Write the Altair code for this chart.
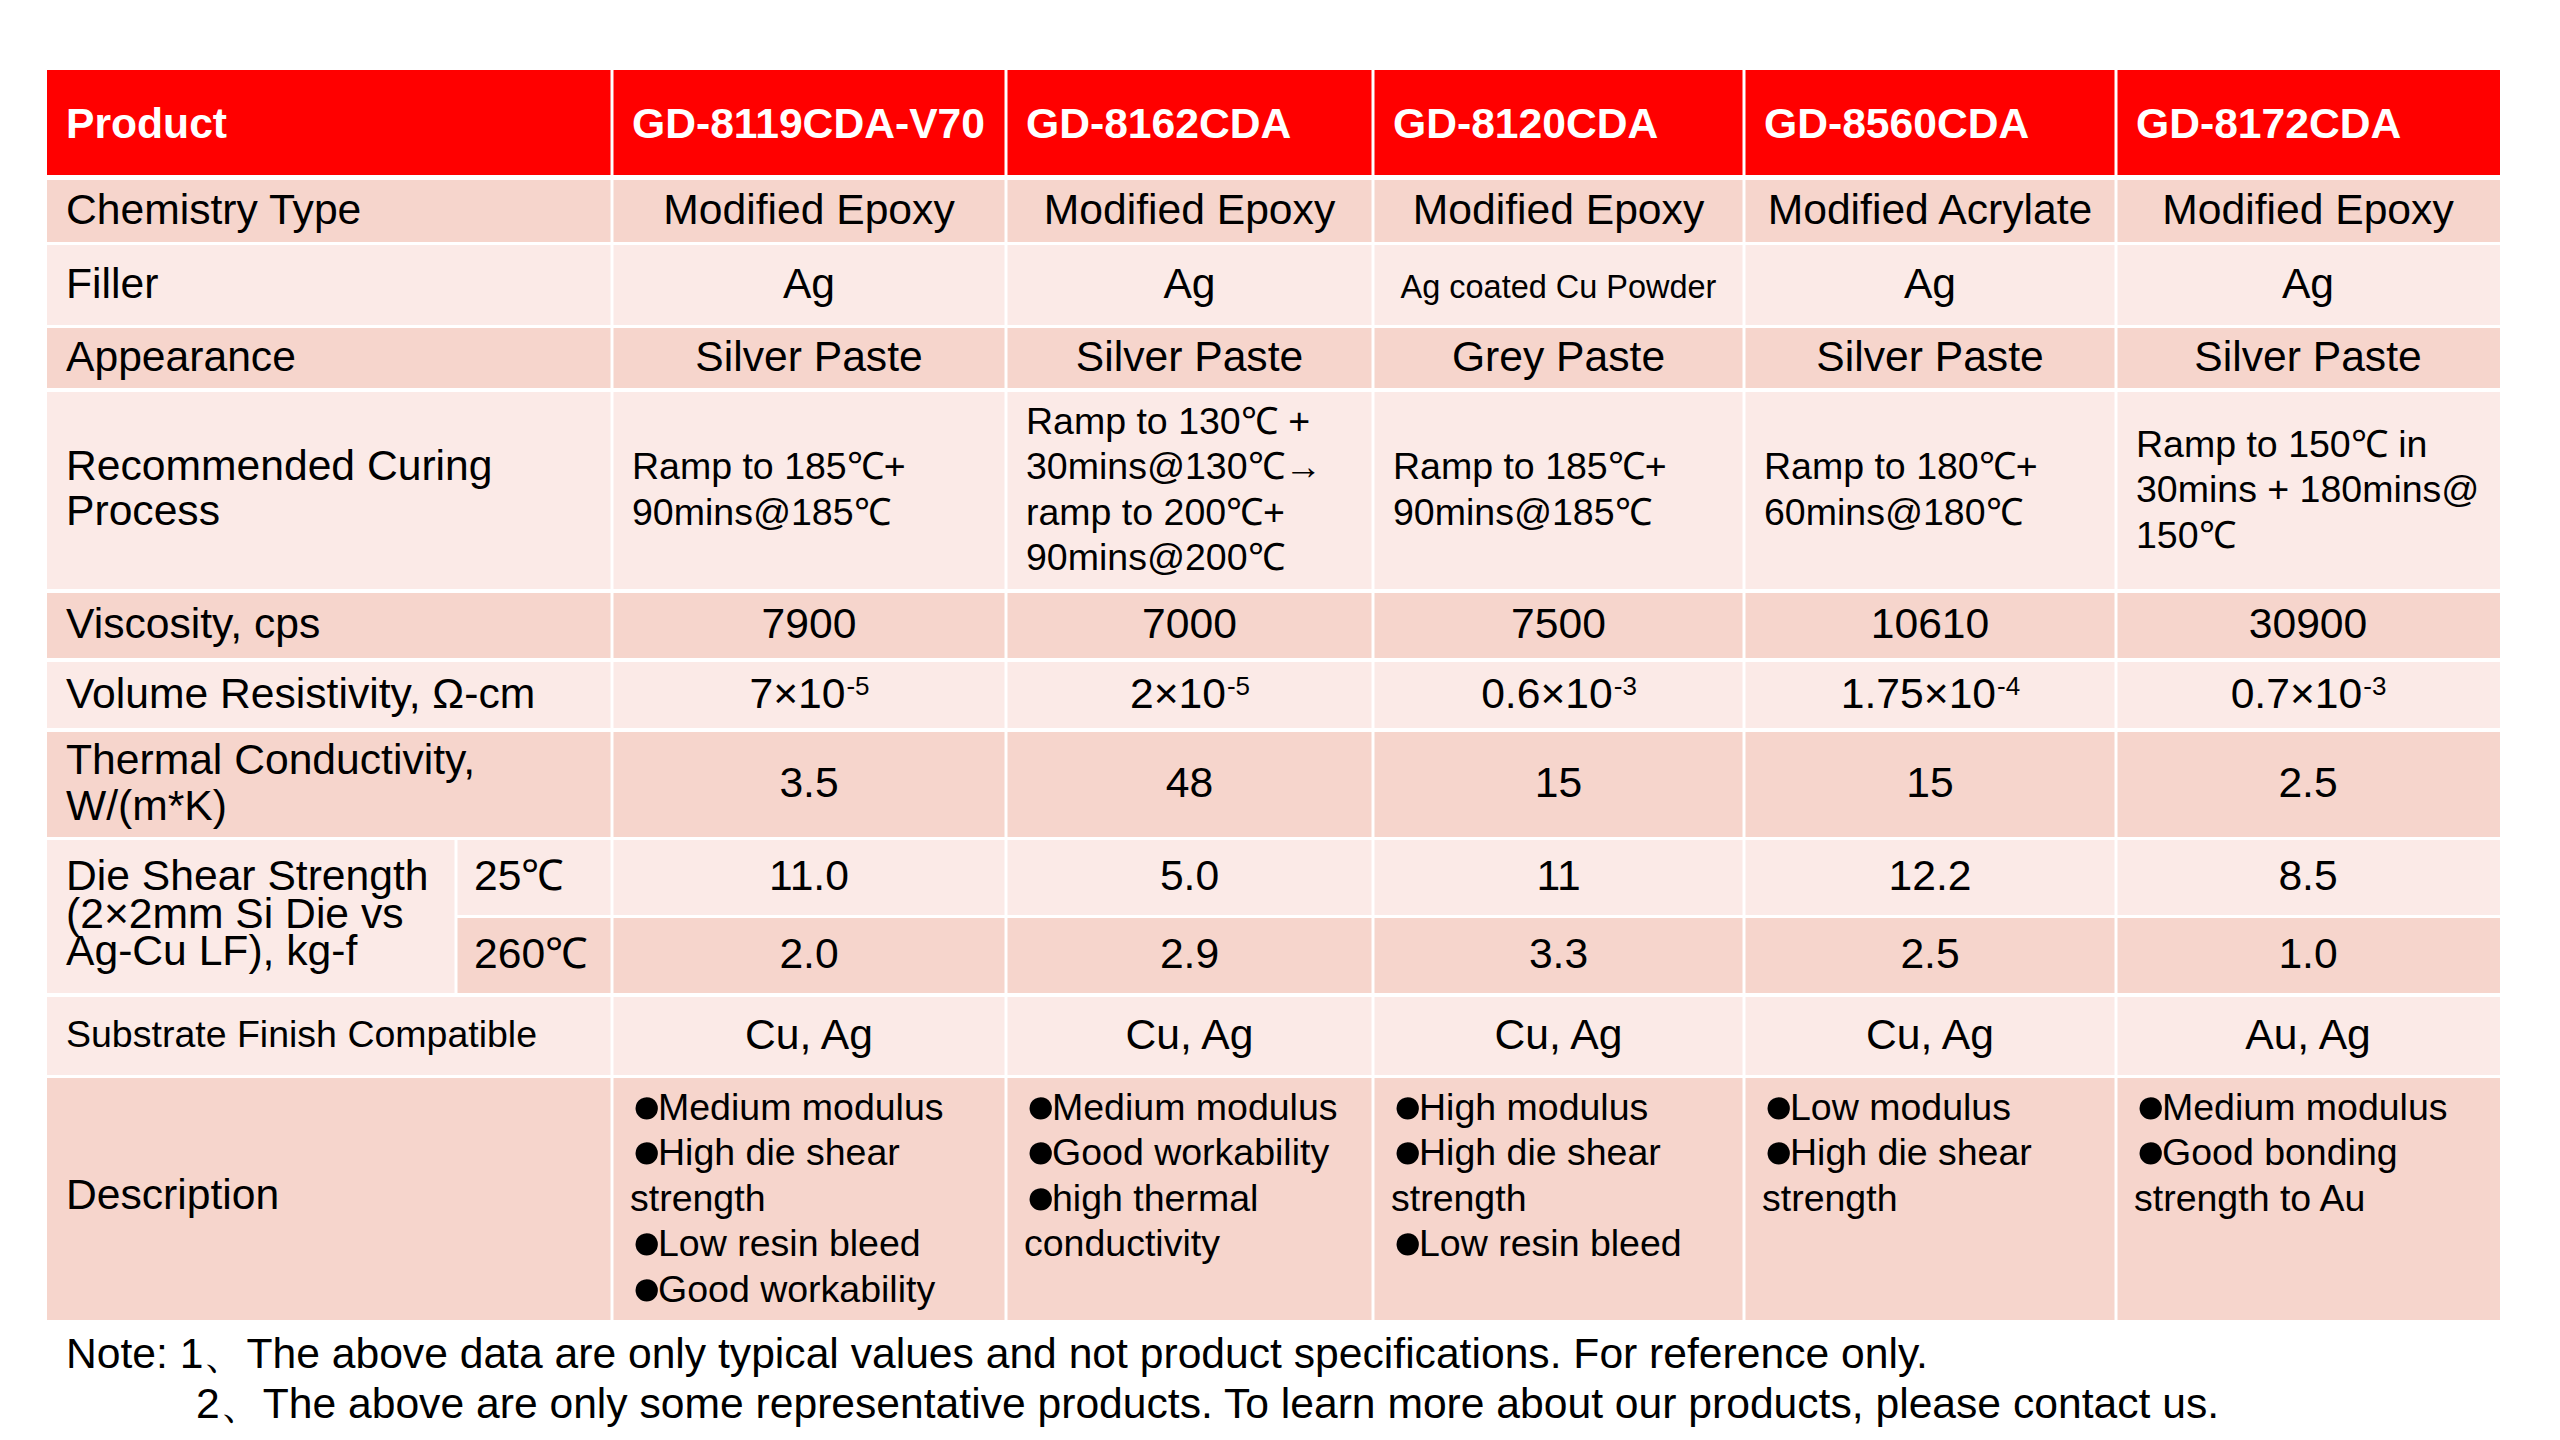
import altair as alt
import pandas as pd

# ---------------- data ----------------
header_label = "Product"
products = ["GD-8119CDA-V70", "GD-8162CDA", "GD-8120CDA", "GD-8560CDA", "GD-8172CDA"]
row_labels = ["Chemistry Type", "Filler", "Appearance"]
chemistry = ["Modified Epoxy", "Modified Epoxy", "Modified Epoxy", "Modified Acrylate", "Modified Epoxy"]
filler = ["Ag", "Ag", "Ag coated Cu Powder", "Ag", "Ag"]
appearance = ["Silver Paste", "Silver Paste", "Grey Paste", "Silver Paste", "Silver Paste"]
curing_label = ["Recommended Curing", "Process"]
curing = [
    ["Ramp to 185℃+", "90mins@185℃"],
    ["Ramp to 130℃ +", "30mins@130℃→", "ramp to 200℃+", "90mins@200℃"],
    ["Ramp to 185℃+", "90mins@185℃"],
    ["Ramp to 180℃+", "60mins@180℃"],
    ["Ramp to 150℃ in", "30mins + 180mins@", "150℃"],
]
viscosity_label = "Viscosity, cps"
viscosity = ["7900", "7000", "7500", "10610", "30900"]
resist_label = "Volume Resistivity, Ω-cm"
resist_base = ["7×10", "2×10", "0.6×10", "1.75×10", "0.7×10"]
resist_exp = ["-5", "-5", "-3", "-4", "-3"]
thermal_label = ["Thermal Conductivity,", "W/(m*K)"]
thermal = ["3.5", "48", "15", "15", "2.5"]
shear_label = ["Die Shear Strength", "(2×2mm Si Die vs", "Ag-Cu LF), kg-f"]
shear_temps = ["25℃", "260℃"]
shear25 = ["11.0", "5.0", "11", "12.2", "8.5"]
shear260 = ["2.0", "2.9", "3.3", "2.5", "1.0"]
substrate_label = "Substrate Finish Compatible"
substrate = ["Cu, Ag", "Cu, Ag", "Cu, Ag", "Cu, Ag", "Au, Ag"]
description_label = "Description"
description = [
    ["●Medium modulus", "●High die shear", "strength", "●Low resin bleed", "●Good workability"],
    ["●Medium modulus", "●Good workability", "●high thermal", "conductivity"],
    ["●High modulus", "●High die shear", "strength", "●Low resin bleed"],
    ["●Low modulus", "●High die shear", "strength"],
    ["●Medium modulus", "●Good bonding", "strength to Au"],
]
notes = [
    "Note: 1、The above data are only typical values and not product specifications. For reference only.",
    "2、The above are only some representative products. To learn more about our products, please contact us.",
]

# ---------------- layout ----------------
FONT = "Liberation Sans"
RED, DARK, LIGHT = "#FF0000", "#F6D5CC", "#FBEAE7"
W, H = 2544, 1424
X0, Y0 = 8, 8
K = 1.015          # font scale
BIG, MED, SMALL = 42 * K, 37.5, 32 * K
DY = 1.5           # baseline nudge
col_edges = [47, 612, 1006, 1373, 1744, 2116, 2500]
rows = {
    "header": (70, 175), "chem": (180, 242), "filler": (245, 325), "appear": (328, 388),
    "curing": (392, 589), "visc": (593, 658), "resist": (662, 728), "thermal": (732, 837),
    "s25": (840, 915), "s260": (918, 993), "subst": (997, 1075), "desc": (1078, 1320),
}
fills = {"header": RED, "chem": DARK, "filler": LIGHT, "appear": DARK, "curing": LIGHT,
         "visc": DARK, "resist": LIGHT, "thermal": DARK, "s25": LIGHT, "s260": DARK,
         "subst": LIGHT, "desc": DARK}
G = 1.5
LBL_X = 66
SPLIT = 456  # die shear label / temperature split


def cx(i):
    return (col_edges[i + 1] + col_edges[i + 2]) / 2


def lx(i):
    return col_edges[i + 1] + 20


def mid(r):
    return (rows[r][0] + rows[r][1]) / 2 + DY


# rectangles
rects = []
for r, (t, b) in rows.items():
    for c in range(6):
        xa = col_edges[c] + (G if c > 0 else 0)
        xb = col_edges[c + 1] - (G if c < 5 else 0)
        if c == 0 and r in ("s25", "s260"):
            rects.append(dict(x=SPLIT + G, x2=xb, y=t, y2=b, fill=fills[r]))
            continue
        rects.append(dict(x=xa, x2=xb, y=t, y2=b, fill=fills[r]))
rects.append(dict(x=col_edges[0], x2=SPLIT - G, y=rows["s25"][0], y2=rows["s260"][1], fill=LIGHT))
rect_df = pd.DataFrame(rects)

hdr, left, center, right, sup, bullets = [], [], [], [], [], []

hdr.append(dict(x=LBL_X, y=138, t=header_label, fs=BIG))
for i, p in enumerate(products):
    hdr.append(dict(x=lx(i), y=138, t=p, fs=BIG))

for key, lab, vals in [("chem", row_labels[0], chemistry), ("filler", row_labels[1], filler),
                       ("appear", row_labels[2], appearance), ("visc", viscosity_label, viscosity),
                       ("thermal", None, thermal), ("s25", None, shear25), ("s260", None, shear260),
                       ("subst", None, substrate)]:
    base = mid(key) + 11
    if lab:
        left.append(dict(x=LBL_X, y=base, t=lab, fs=BIG))
    for i, v in enumerate(vals):
        fs = SMALL if v == "Ag coated Cu Powder" else BIG
        center.append(dict(x=cx(i), y=base, t=v, fs=fs))

left.append(dict(x=LBL_X, y=mid("subst") + 9, t=substrate_label, fs=MED))
left.append(dict(x=LBL_X, y=mid("desc") + 8, t=description_label, fs=BIG))
left.append(dict(x=LBL_X, y=mid("resist") + 11, t=resist_label, fs=BIG))
for k, line in enumerate(curing_label):
    left.append(dict(x=LBL_X, y=mid("curing") + 10 + (k - 0.5) * 45, t=line, fs=BIG))
for k, line in enumerate(thermal_label):
    left.append(dict(x=LBL_X, y=mid("thermal") + 10.5 + (k - 0.5) * 46, t=line, fs=BIG))
sm = (rows["s25"][0] + rows["s260"][1]) / 2 + DY
for k, line in enumerate(shear_label):
    left.append(dict(x=LBL_X, y=sm + 9.5 + (k - 1) * 37.5, t=line, fs=BIG))
left.append(dict(x=SPLIT + 18, y=mid("s25") + 11, t=shear_temps[0], fs=BIG))
left.append(dict(x=SPLIT + 18, y=mid("s260") + 11, t=shear_temps[1], fs=BIG))

for i, lines in enumerate(curing):
    n = len(lines)
    for k, line in enumerate(lines):
        left.append(dict(x=lx(i), y=mid("curing") + 10 + (k - (n - 1) / 2) * 45.5, t=line, fs=MED))
for i, lines in enumerate(description):
    for k, line in enumerate(lines):
        yb = 1119.5 + k * 45.5
        if line.startswith("●"):
            bullets.append(dict(x=lx(i) - 1, y=yb + 3, t="●", fs=52))
            left.append(dict(x=lx(i) + 26, y=yb, t=line[1:], fs=MED))
        else:
            left.append(dict(x=lx(i) - 2, y=yb, t=line, fs=MED))

left.append(dict(x=LBL_X, y=1368, t=notes[0], fs=BIG))
left.append(dict(x=196, y=1418, t=notes[1], fs=BIG))

# resistivity with superscript exponents
cw = {"0": 556, "1": 556, "2": 556, "3": 556, "4": 556, "5": 556, "6": 556, "7": 556,
      "8": 556, "9": 556, ".": 278, "×": 584, "-": 333}
for i, (b, e) in enumerate(zip(resist_base, resist_exp)):
    wb = sum(cw[ch] for ch in b) / 1000 * BIG
    we = sum(cw[ch] for ch in e) / 1000 * 26
    jx = cx(i) - (wb + we) / 2 + wb
    yb = mid("resist") + 11
    right.append(dict(x=jx, y=yb, t=b, fs=BIG))
    sup.append(dict(x=jx + 1, y=yb - 13, t=e, fs=26))

xs = alt.Scale(domain=[X0, X0 + W], nice=False, zero=False)
ys = alt.Scale(domain=[Y0, Y0 + H], nice=False, zero=False, reverse=True)

rect_layer = alt.Chart(rect_df).mark_rect().encode(
    x=alt.X("x:Q", scale=xs, axis=None), x2="x2:Q",
    y=alt.Y("y:Q", scale=ys, axis=None), y2="y2:Q",
    color=alt.Color("fill:N", scale=None),
)


def text_layer(rowsl, align, weight="normal", color="#000000"):
    return alt.Chart(pd.DataFrame(rowsl)).mark_text(
        align=align, baseline="alphabetic", font=FONT, fontWeight=weight, color=color
    ).encode(
        x=alt.X("x:Q", scale=xs, axis=None),
        y=alt.Y("y:Q", scale=ys, axis=None),
        text=alt.Text("t:N"),
        size=alt.Size("fs:Q", scale=None),
    )


chart = alt.layer(
    rect_layer,
    text_layer(hdr, "left", "bold", "#FFFFFF"),
    text_layer(left, "left"),
    text_layer(bullets, "left"),
    text_layer(center, "center"),
    text_layer(right, "right"),
    text_layer(sup, "left"),
).properties(
    width=W, height=H, padding=0, autosize=alt.AutoSizeParams(type="none"),
    background="#FFFFFF",
).configure_view(stroke=None)

chart.save("out.html", embed_options={"renderer": "svg", "actions": False})
